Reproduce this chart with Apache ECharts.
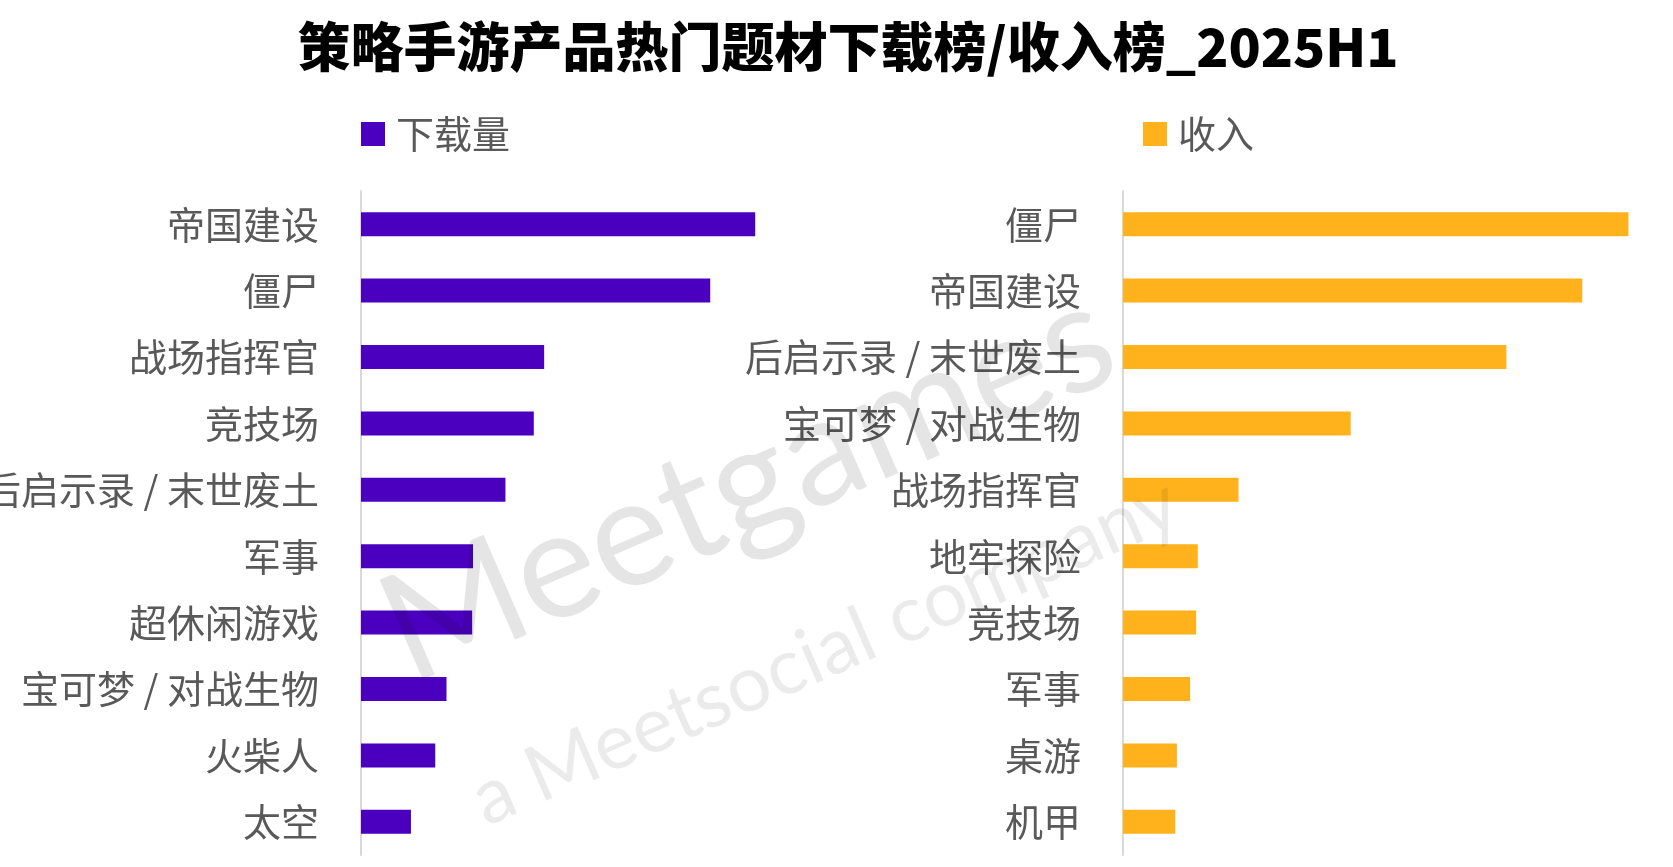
<!DOCTYPE html>
<html>
<head>
<meta charset="utf-8">
<script src="https://cdn.jsdelivr.net/npm/echarts@6/dist/echarts.min.js"></script>
<style>
  html, body { margin: 0; padding: 0; background: #fff; }
  #chart { width: 1673px; height: 867px; }
</style>
</head>
<body>
<div id="chart"></div>
<script>
// 下载榜 (左)
var downloadCats = ["帝国建设", "僵尸", "战场指挥官", "竞技场", "后启示录 / 末世废土", "军事", "超休闲游戏", "宝可梦 / 对战生物", "火柴人", "太空"];
var downloadVals = [87.6, 77.6, 40.7, 38.4, 32.1, 24.9, 24.7, 19.0, 16.5, 11.1];

// 收入榜 (右)
var revenueCats = ["僵尸", "帝国建设", "后启示录 / 末世废土", "宝可梦 / 对战生物", "战场指挥官", "地牢探险", "竞技场", "军事", "桌游", "机甲"];
var revenueVals = [91.9, 83.5, 69.7, 41.4, 21.0, 13.6, 13.3, 12.2, 9.8, 9.5];

var purple = "#4B00BF";
var orange = "#FFB21B";
var labelColor = "#595959";
var cjk = '"Noto Sans CJK SC", "Noto Sans", sans-serif';

var chart = echarts.init(document.getElementById("chart"));

function catAxis(idx, cats) {
    return {
        type: "category",
        gridIndex: idx,
        data: cats,
        inverse: true,
        axisLine: { show: true, lineStyle: { color: "#d9d9d9", width: 2 } },
        axisTick: { show: false },
        axisLabel: { margin: 42, fontSize: 38, color: labelColor, fontFamily: cjk }
    };
}

function valAxis(idx) {
    return {
        type: "value",
        gridIndex: idx,
        min: 0,
        max: 100,
        show: false,
        splitLine: { show: false }
    };
}

function legendAt(name, left) {
    return {
        data: [name],
        left: left,
        top: 115,
        padding: 0,
        itemWidth: 24,
        itemHeight: 24,
        icon: "rect",
        textStyle: { fontSize: 38, color: labelColor, fontFamily: cjk, padding: [0, 0, 0, 6] }
    };
}

var option = {
    backgroundColor: "#fff",
    animation: false,
    title: {
        text: "策略手游产品热门题材下载榜/收入榜_2025H1",
        left: 843,
        textAlign: "center",
        top: 15,
        textStyle: { fontSize: 53, fontWeight: 900, color: "#000", fontFamily: cjk }
    },
    legend: [legendAt("下载量", 361), legendAt("收入", 1143)],
    grid: [
        { left: 361, width: 450, top: 191, bottom: 12, containLabel: false, outerBoundsMode: "none" },
        { left: 1123, width: 550, top: 191, bottom: 12, containLabel: false, outerBoundsMode: "none" }
    ],
    xAxis: [valAxis(0), valAxis(1)],
    yAxis: [catAxis(0, downloadCats), catAxis(1, revenueCats)],
    series: [
        {
            name: "下载量",
            type: "bar",
            xAxisIndex: 0,
            yAxisIndex: 0,
            data: downloadVals,
            barWidth: 24,
            itemStyle: { color: purple }
        },
        {
            name: "收入",
            type: "bar",
            xAxisIndex: 1,
            yAxisIndex: 1,
            data: revenueVals,
            barWidth: 24,
            itemStyle: { color: orange }
        }
    ],
    // 水印
    graphic: [
        {
            type: "text",
            x: 748,
            y: 485,
            rotation: 0.41,
            z: 100,
            silent: true,
            style: {
                text: "Meetgames",
                fontSize: 152,
                fontFamily: "Lato, sans-serif",
                fill: "rgba(0,0,0,0.10)",
                align: "center",
                verticalAlign: "middle"
            }
        },
        {
            type: "text",
            x: 825,
            y: 652,
            rotation: 0.41,
            z: 100,
            silent: true,
            style: {
                text: "a Meetsocial company",
                fontSize: 78,
                fontFamily: "Lato, sans-serif",
                fill: "rgba(0,0,0,0.08)",
                align: "center",
                verticalAlign: "middle"
            }
        }
    ]
};

chart.setOption(option);
</script>
</body>
</html>
